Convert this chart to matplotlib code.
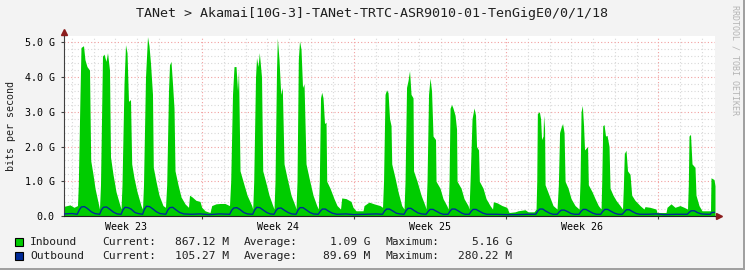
import numpy as np
import matplotlib
matplotlib.use("Agg")
import matplotlib.pyplot as plt
from matplotlib.patches import Rectangle

# time axis: days since the start of week 23, values in Gbit/s
in_t = [0.645, 0.907, 1.09, 1.253,
        1.29, 1.368, 1.414, 1.529, 1.596, 1.69, 1.806, 1.861, 1.967, 2.059, 2.197, 2.266,
        2.312, 2.404, 2.474, 2.566, 2.635, 2.727, 2.773, 2.888, 3.026, 3.21, 3.257,
        3.303, 3.395, 3.464, 3.533, 3.602, 3.694, 3.749, 3.855, 3.993, 4.178, 4.247,
        4.293, 4.385, 4.477, 4.546, 4.615, 4.707, 4.744, 4.868, 5.006, 5.19, 5.306,
        5.361, 5.444, 5.49, 5.559, 5.629, 5.698, 5.744, 5.882, 6.02, 6.204, 6.366,
        6.412, 6.527, 6.711, 6.893, 6.974, 7.126, 7.356, 7.434, 7.632, 7.817, 8.047, 8.254,
        8.309, 8.392, 8.461, 8.553, 8.623, 8.669, 8.738, 8.876, 9.061, 9.277, 9.323,
        9.369, 9.452, 9.498, 9.567, 9.627, 9.728, 9.784, 9.913, 10.074, 10.244, 10.304,
        10.35, 10.419, 10.456, 10.534, 10.613, 10.686, 10.765, 10.903, 11.087, 11.271, 11.317,
        11.363, 11.423, 11.478, 11.547, 11.617, 11.686, 11.778, 11.916, 12.1, 12.271, 12.344,
        12.39, 12.446, 12.501, 12.561, 12.63, 12.699, 12.731, 12.883, 13.067, 13.206, 13.367,
        13.422, 13.62, 13.85, 13.942, 14.08, 14.403, 14.449, 14.679, 14.909, 15.186, 15.301,
        15.348, 15.417, 15.486, 15.555, 15.624, 15.693, 15.725, 15.877, 16.015, 16.186, 16.292,
        16.338, 16.407, 16.476, 16.545, 16.614, 16.706, 16.729, 16.891, 17.075, 17.258, 17.305,
        17.351, 17.42, 17.489, 17.558, 17.627, 17.742, 17.765, 17.949, 18.087, 18.258, 18.327,
        18.365, 18.411, 18.48, 18.549, 18.641, 18.71, 18.733, 18.917, 19.055, 19.24, 19.286,
        19.332, 19.424, 19.516, 19.585, 19.631, 19.723, 19.76, 19.931, 20.069, 20.253, 20.368,
        20.405, 20.575, 20.806, 21.022, 21.128, 21.405, 21.543, 21.865, 22.003, 22.28, 22.372,
        22.404, 22.432, 22.524, 22.58, 22.626, 22.695, 22.718, 22.764, 22.787, 22.971, 23.155, 23.339,
        23.399, 23.455, 23.524, 23.593, 23.662, 23.708, 23.846, 23.984, 24.168, 24.352,
        24.398, 24.444, 24.504, 24.559, 24.605, 24.743, 24.78, 24.95, 25.089, 25.24, 25.365,
        25.397, 25.443, 25.503, 25.572, 25.641, 25.733, 25.779, 25.917, 26.055, 26.239, 26.354,
        26.391, 26.437, 26.515, 26.584, 26.699, 26.777, 26.929, 27.159, 27.343,
        27.389, 27.62, 27.896, 27.942, 28.357, 28.403, 28.587, 28.771, 29.002, 29.186, 29.347,
        29.384, 29.416, 29.485, 29.554, 29.692, 29.738, 29.876, 30.014, 30.406,
        30.429, 30.567, 30.613]
in_v = [0.28, 0.32, 0.25, 0.3,
        0.9, 3.5, 4.85, 4.9, 4.5, 4.3, 4.2, 1.6, 1.2, 0.8, 0.4, 0.2,
        0.9, 4.6, 4.66, 4.45, 4.7, 4.2, 1.7, 1.2, 0.7, 0.3, 0.2,
        0.9, 3.8, 4.93, 4.7, 3.3, 3.35, 1.5, 1.1, 0.7, 0.3, 0.2,
        0.9, 4.0, 5.16, 4.9, 4.4, 3.5, 1.4, 1.0, 0.6, 0.3, 0.25,
        0.9, 3.6, 4.35, 4.45, 3.8, 3.1, 1.3, 0.9, 0.55, 0.35, 0.25,
        0.6, 0.55, 0.45, 0.42, 0.25, 0.15, 0.1, 0.3, 0.35, 0.36, 0.36, 0.3,
        1.0, 3.5, 4.3, 4.3, 3.6, 4.2, 1.3, 1.0, 0.6, 0.3, 0.2,
        1.0, 4.0, 4.56, 4.3, 4.7, 4.0, 1.3, 1.0, 0.6, 0.3, 0.2,
        1.0, 4.2, 5.12, 4.5, 3.5, 3.7, 1.5, 1.1, 0.6, 0.3, 0.2,
        1.0, 4.5, 5.04, 4.8, 3.7, 3.8, 1.5, 1.1, 0.6, 0.3, 0.2,
        1.0, 3.4, 3.56, 3.4, 2.66, 2.7, 1.0, 0.8, 0.5, 0.3, 0.2,
        0.52, 0.5, 0.42, 0.25, 0.15, 0.15, 0.3, 0.4, 0.35, 0.3, 0.25,
        1.0, 3.5, 3.63, 3.55, 2.8, 2.6, 1.5, 1.1, 0.7, 0.3, 0.2,
        1.0, 3.7, 3.9, 4.18, 3.5, 3.4, 1.3, 1.0, 0.6, 0.3, 0.2,
        1.0, 3.5, 3.97, 3.6, 2.3, 2.2, 1.0, 0.8, 0.5, 0.3, 0.2,
        1.0, 3.1, 3.21, 3.1, 2.9, 2.5, 1.0, 0.8, 0.5, 0.3, 0.2,
        1.0, 2.8, 3.11, 2.9, 2.0, 1.9, 1.0, 0.8, 0.5, 0.3, 0.2,
        0.41, 0.38, 0.3, 0.25, 0.1, 0.12, 0.15, 0.18, 0.12, 0.12, 0.2,
        1.0, 2.95, 3.0, 2.8, 2.2, 2.3, 2.9, 2.5, 0.9, 0.6, 0.3, 0.2,
        0.9, 2.4, 2.55, 2.66, 2.4, 1.0, 0.8, 0.5, 0.3, 0.2,
        1.0, 3.0, 3.18, 2.6, 1.9, 2.0, 0.9, 0.7, 0.5, 0.3, 0.2,
        1.0, 2.6, 2.63, 2.3, 2.32, 2.0, 0.8, 0.6, 0.45, 0.3, 0.2,
        0.8, 1.8, 1.89, 1.3, 1.2, 0.6, 0.45, 0.3, 0.2,
        0.27, 0.25, 0.2, 0.1, 0.1, 0.25, 0.35, 0.25, 0.3, 0.25, 0.2,
        0.9, 2.3, 2.35, 1.5, 1.4, 0.6, 0.3, 0.15, 0.15,
        1.1, 1.05, 0.87]

out_t = [0.645, 1.0, 1.24,
         1.34, 1.43, 1.57, 1.70, 1.89, 2.05, 2.27,
         2.36, 2.45, 2.59, 2.73, 2.91, 3.08, 3.26,
         3.35, 3.44, 3.58, 3.72, 3.90, 4.05, 4.25,
         4.34, 4.43, 4.57, 4.71, 4.89, 5.05, 5.32,
         5.41, 5.50, 5.64, 5.78, 5.96, 6.15,
         6.5, 6.9, 7.3, 7.8, 8.26,
         8.36, 8.45, 8.59, 8.73, 8.91, 9.08, 9.32,
         9.42, 9.51, 9.65, 9.79, 9.97, 10.13, 10.30,
         10.40, 10.49, 10.63, 10.77, 10.95, 11.12, 11.32,
         11.41, 11.50, 11.64, 11.78, 11.96, 12.12, 12.34,
         12.44, 12.53, 12.67, 12.81, 12.99, 13.2,
         13.6, 14.0, 14.5, 15.0, 15.30,
         15.39, 15.49, 15.62, 15.76, 15.94, 16.1, 16.29,
         16.38, 16.48, 16.61, 16.75, 16.93, 17.1, 17.31,
         17.40, 17.49, 17.63, 17.77, 17.95, 18.1, 18.32,
         18.41, 18.50, 18.64, 18.78, 18.96, 19.1, 19.29,
         19.38, 19.47, 19.61, 19.75, 19.93, 20.1,
         20.5, 21.0, 21.5, 22.0, 22.36,
         22.45, 22.54, 22.68, 22.82, 23.0, 23.15, 23.35,
         23.44, 23.54, 23.67, 23.81, 23.99, 24.15, 24.35,
         24.44, 24.54, 24.67, 24.81, 24.99, 25.15, 25.35,
         25.44, 25.54, 25.67, 25.81, 25.99, 26.15, 26.34,
         26.44, 26.53, 26.67, 26.80, 26.99, 27.15,
         27.5, 27.9, 28.3, 28.8, 29.34,
         29.43, 29.52, 29.66, 29.80, 29.98, 30.2, 30.40,
         30.45, 30.613]
out_v = [0.06, 0.07, 0.05,
         0.18, 0.26, 0.27, 0.22, 0.12, 0.07, 0.05,
         0.18, 0.25, 0.26, 0.20, 0.11, 0.06, 0.05,
         0.18, 0.25, 0.24, 0.20, 0.10, 0.07, 0.05,
         0.20, 0.28, 0.27, 0.21, 0.12, 0.07, 0.05,
         0.17, 0.24, 0.25, 0.18, 0.10, 0.06,
         0.05, 0.06, 0.04, 0.06, 0.05,
         0.17, 0.23, 0.24, 0.19, 0.10, 0.06, 0.05,
         0.18, 0.25, 0.24, 0.18, 0.10, 0.06, 0.05,
         0.16, 0.22, 0.23, 0.17, 0.10, 0.06, 0.05,
         0.17, 0.24, 0.24, 0.18, 0.10, 0.06, 0.05,
         0.14, 0.20, 0.20, 0.14, 0.08, 0.05,
         0.06, 0.04, 0.05, 0.06, 0.05,
         0.14, 0.20, 0.20, 0.15, 0.08, 0.06, 0.05,
         0.15, 0.22, 0.22, 0.16, 0.09, 0.06, 0.05,
         0.13, 0.19, 0.19, 0.14, 0.08, 0.05, 0.05,
         0.14, 0.20, 0.20, 0.15, 0.08, 0.05, 0.05,
         0.13, 0.19, 0.19, 0.14, 0.08, 0.05,
         0.05, 0.04, 0.04, 0.05, 0.05,
         0.14, 0.20, 0.20, 0.14, 0.08, 0.05, 0.05,
         0.12, 0.17, 0.17, 0.13, 0.07, 0.05, 0.05,
         0.13, 0.19, 0.19, 0.14, 0.08, 0.05, 0.05,
         0.13, 0.19, 0.19, 0.14, 0.08, 0.05, 0.05,
         0.12, 0.18, 0.18, 0.13, 0.07, 0.05,
         0.05, 0.06, 0.04, 0.05, 0.05,
         0.11, 0.15, 0.15, 0.10, 0.06, 0.05, 0.05,
         0.10, 0.105]

week_lines = [7, 14, 21, 28]
week_centers = [3.5, 10.5, 17.5, 24.5]
week_labels = ["Week 23", "Week 24", "Week 25", "Week 26"]
y_ticks = [0, 1, 2, 3, 4, 5]
y_labels = ["0.0", "1.0 G", "2.0 G", "3.0 G", "4.0 G", "5.0 G"]

series = ["Inbound", "Outbound"]
colors = ["#00CC00", "#002A97"]
current = ["867.12 M", "105.27 M"]
average = ["1.09 G", "89.69 M"]
maximum = ["5.16 G", "280.22 M"]

W, H = 745, 270
mono = "DejaVu Sans Mono"

fig = plt.figure(figsize=(W / 100, H / 100), dpi=100, facecolor="#F3F3F3")
ax = fig.add_axes([64.3 / W, 54 / H, (715 - 64.3) / W, 180 / H])
ax.set_facecolor("white")
ax.set_xlim(in_t[0], in_t[-1])
ax.set_ylim(0, 5.18)

# grid: minor grey every day / 0.2 G, major red every week / 1 G
dot = (0, (1, 2))
for d in np.arange(1, 31):
    if d not in week_lines:
        ax.axvline(d, color="#D8D8D8", lw=0.8, ls=dot, zorder=0)
for g in np.arange(0.2, 5.1, 0.2):
    if abs(g - round(g)) > 0.01:
        ax.axhline(g, color="#D8D8D8", lw=0.8, ls=dot, zorder=0)
for w in week_lines:
    ax.axvline(w, color="#F2A0A0", lw=0.8, ls=dot, zorder=0)
for g in y_ticks[1:]:
    ax.axhline(g, color="#F2A0A0", lw=0.8, ls=dot, zorder=0)

ax.fill_between(in_t, in_v, color=colors[0], lw=0, zorder=2)
ax.plot(out_t, out_v, color=colors[1], lw=1.0, zorder=3)

for s in ["top", "right"]:
    ax.spines[s].set_visible(False)
ax.spines["left"].set_color("#404040")
ax.spines["bottom"].set_color("#202020")
ax.spines["left"].set_linewidth(0.8)
ax.spines["bottom"].set_linewidth(0.8)

ax.set_yticks(y_ticks, y_labels, family=mono, fontsize=7.2)
ax.tick_params(axis="y", length=2, pad=5, color="#404040")
ax.set_xticks(week_lines, [""] * 4)
ax.set_xticks(week_centers, week_labels, minor=True, family=mono, fontsize=7.2)
ax.tick_params(axis="x", which="major", length=2, color="#404040")
ax.tick_params(axis="x", which="minor", length=0, pad=4)

# arrow heads on the axes
ax.plot([0, 0], [1, 1.02], color="#404040", lw=0.8, transform=ax.transAxes, clip_on=False)
ax.plot([0], [1.02], marker="^", ms=4.5, color="#8B1C1C", transform=ax.transAxes, clip_on=False)
ax.plot([1, 1.006], [0, 0], color="#202020", lw=0.8, transform=ax.transAxes, clip_on=False)
ax.plot([1.006], [0], marker=">", ms=4.5, color="#8B1C1C", transform=ax.transAxes, clip_on=False)

fig.text(372 / W, 1 - 14 / H, "TANet > Akamai[10G-3]-TANet-TRTC-ASR9010-01-TenGigE0/0/1/18",
         family=mono, fontsize=9.6, ha="center", va="center", color="#202020")
fig.text(11 / W, 1 - 126 / H, "bits per second", family=mono, fontsize=7.2,
         rotation=90, ha="center", va="center", color="#202020")
fig.text(735 / W, 1 - 5 / H, "RRDTOOL / TOBI OETIKER", family=mono, fontsize=6,
         rotation=270, ha="center", va="top", color="#B4B4B4")

# legend rows
for i in range(2):
    yc = 1 - (242.3 + 13.7 * i) / H
    fig.add_artist(Rectangle((15 / W, yc - 4 / H), 8 / W, 8 / H, transform=fig.transFigure,
                             facecolor=colors[i], edgecolor="black", lw=0.8))
    kw = dict(family=mono, fontsize=8.1, va="center", color="#202020")
    fig.text(30 / W, yc, series[i], ha="left", **kw)
    fig.text(102 / W, yc, "Current:", ha="left", **kw)
    fig.text(229 / W, yc, current[i], ha="right", **kw)
    fig.text(244 / W, yc, "Average:", ha="left", **kw)
    fig.text(370 / W, yc, average[i], ha="right", **kw)
    fig.text(385 / W, yc, "Maximum:", ha="left", **kw)
    fig.text(512 / W, yc, maximum[i], ha="right", **kw)

# shaded frame on the bottom and right edge
fig.add_artist(Rectangle((0, 0), 1, 2 / H, transform=fig.transFigure, color="#A0A0A0", lw=0))
fig.add_artist(Rectangle((1 - 2 / W, 0), 2 / W, 1, transform=fig.transFigure, color="#A0A0A0", lw=0))

fig.savefig("out.png", dpi=100, facecolor=fig.get_facecolor())
